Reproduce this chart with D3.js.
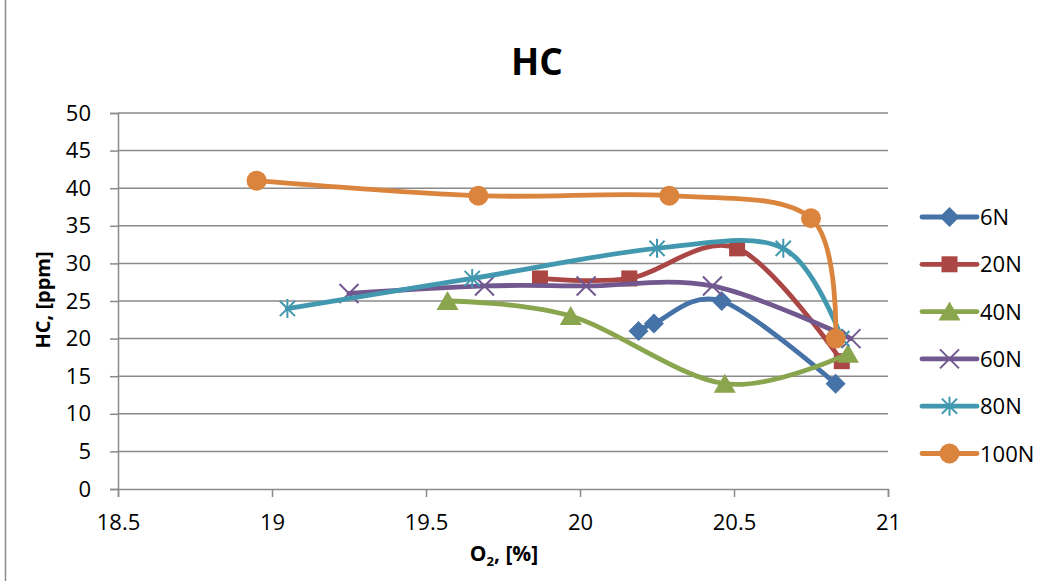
<!DOCTYPE html>
<html>
<head>
<meta charset="utf-8">
<script src="https://cdn.jsdelivr.net/npm/d3@7"></script>
<style>
  body { margin: 0; background: #fff; }
  text { font-family: "Open Sans", "Liberation Sans", sans-serif; fill: #000; }
</style>
</head>
<body>
<div id="chart"></div>
<script>
// values
var seriesNames = ["6N", "20N", "40N", "60N", "80N", "100N"];
var o2_6N   = [20.19, 20.24, 20.46, 20.83];
var hc_6N   = [21, 22, 25, 14];
var o2_20N  = [19.87, 20.16, 20.51, 20.85];
var hc_20N  = [28, 28, 32, 17];
var o2_40N  = [19.57, 19.97, 20.47, 20.87];
var hc_40N  = [25, 23, 14, 18];
var o2_60N  = [19.25, 19.69, 20.02, 20.43, 20.88];
var hc_60N  = [26, 27, 27, 27, 20];
var o2_80N  = [19.05, 19.65, 20.25, 20.66, 20.85];
var hc_80N  = [24, 28, 32, 32, 20];
var o2_100N = [18.95, 19.67, 20.29, 20.75, 20.83];
var hc_100N = [41, 39, 39, 36, 20];
var xTicks = [18.5, 19, 19.5, 20, 20.5, 21];
var yTicks = [0, 5, 10, 15, 20, 25, 30, 35, 40, 45, 50];

var colors = ["#4572a7", "#aa4643", "#89a54e", "#71588f", "#4198af", "#db843d"];
var markers = ["diamond", "square", "triangle", "x", "star", "circle"];

function zip(xs, ys) {
    return xs.map(function(x, i) { return { x: x, y: ys[i] }; });
}
var series = [
    zip(o2_6N, hc_6N), zip(o2_20N, hc_20N), zip(o2_40N, hc_40N),
    zip(o2_60N, hc_60N), zip(o2_80N, hc_80N), zip(o2_100N, hc_100N)
];

var width = 1060, height = 581;
var margin = { left: 118, top: 113, right: 172, bottom: 92 };
var plotW = width - margin.left - margin.right;
var plotH = height - margin.top - margin.bottom;

var svg = d3.select("#chart").append("svg")
    .attr("width", width)
    .attr("height", height);

// outer chart border (only the left edge shows)
svg.append("line")
    .attr("x1", 5.5).attr("x2", 5.5)
    .attr("y1", 0).attr("y2", height)
    .attr("stroke", "#8c8c8c").attr("stroke-width", 1.5);

var x = d3.scaleLinear().domain([18.5, 21]).range([0, plotW]);
var y = d3.scaleLinear().domain([0, 50]).range([plotH, 0]);

var g = svg.append("g")
    .attr("transform", "translate(" + margin.left + "," + margin.top + ")");

// gridlines
g.selectAll(".grid")
    .data(yTicks.slice(1))
    .enter().append("line")
    .attr("class", "grid")
    .attr("x1", 0).attr("x2", plotW)
    .attr("y1", function(d) { return y(d); })
    .attr("y2", function(d) { return y(d); })
    .attr("stroke", "#8a8a8a").attr("stroke-width", 1.5);

var xAxis = g.append("g")
    .attr("transform", "translate(0," + plotH + ")")
    .call(d3.axisBottom(x).tickValues(xTicks).tickSize(8).tickPadding(17)
        .tickFormat(function(d) { return String(d); }));
var yAxis = g.append("g")
    .call(d3.axisLeft(y).tickValues(yTicks).tickSize(8).tickPadding(19));

[xAxis, yAxis].forEach(function(ax) {
    ax.select(".domain").attr("stroke", "#8a8a8a").attr("stroke-width", 1.5);
    ax.selectAll(".tick line").attr("stroke", "#8a8a8a").attr("stroke-width", 1.5);
    ax.selectAll(".tick text")
        .style("font-family", "'Open Sans', 'Liberation Sans', sans-serif")
        .style("font-size", "22px").attr("fill", "#000");
});

// title and axis titles
svg.append("text")
    .attr("x", 537).attr("y", 75)
    .attr("text-anchor", "middle")
    .style("font-size", "37px").style("font-weight", "bold")
    .text("HC");

var xTitle = svg.append("text")
    .attr("x", 504).attr("y", 561)
    .attr("text-anchor", "middle")
    .style("font-size", "21px").style("font-weight", "bold");
xTitle.append("tspan").text("O");
xTitle.append("tspan").attr("dy", 5).style("font-size", "13px").text("2");
xTitle.append("tspan").attr("dy", -5).text(", [%]");

svg.append("text")
    .attr("transform", "translate(50,300) rotate(-90)")
    .attr("text-anchor", "middle")
    .style("font-size", "20px").style("font-weight", "bold")
    .text("HC, [ppm]");

function markerPath(type, r) {
    if (type === "diamond") return "M0," + (-r) + "L" + r + ",0L0," + r + "L" + (-r) + ",0Z";
    if (type === "square") return "M" + (-r) + "," + (-r) + "H" + r + "V" + r + "H" + (-r) + "Z";
    if (type === "triangle") return "M0," + (-r) + "L" + (r * 1.1) + "," + (r * 0.9) + "L" + (-r * 1.1) + "," + (r * 0.9) + "Z";
    if (type === "circle") return d3.arc()({ innerRadius: 0, outerRadius: r, startAngle: 0, endAngle: 2 * Math.PI });
    if (type === "x") return "M" + (-r) + "," + (-r) + "L" + r + "," + r + "M" + (-r) + "," + r + "L" + r + "," + (-r);
    // star: x plus vertical stroke
    var a = r * 0.8;
    return "M" + (-a) + "," + (-a) + "L" + a + "," + a + "M" + (-a) + "," + a + "L" + a + "," + (-a) + "M0," + (-r) + "L0," + r;
}
var markerSize = [10, 8, 10, 9.5, 9.5, 10];

function drawMarker(sel, i) {
    var stroked = markers[i] === "x" || markers[i] === "star";
    sel.attr("d", markerPath(markers[i], markerSize[i]))
        .attr("fill", stroked ? "none" : colors[i])
        .attr("stroke", stroked ? colors[i] : "none")
        .attr("stroke-width", stroked ? 2 : 0);
}

var line = d3.line()
    .x(function(d) { return x(d.x); })
    .y(function(d) { return y(d.y); })
    .curve(d3.curveCardinal.tension(0));

series.forEach(function(data, i) {
    g.append("path")
        .datum(data)
        .attr("fill", "none")
        .attr("stroke", colors[i])
        .attr("stroke-width", 4.8)
        .attr("stroke-linecap", "round")
        .attr("stroke-linejoin", "round")
        .attr("d", line);

    g.selectAll(".m" + i)
        .data(data)
        .enter().append("path")
        .attr("class", "m" + i)
        .attr("transform", function(d) { return "translate(" + x(d.x) + "," + y(d.y) + ")"; })
        .call(drawMarker, i);
});

// legend
var legend = svg.append("g").attr("transform", "translate(922,217)");
var item = legend.selectAll(".item")
    .data(seriesNames)
    .enter().append("g")
    .attr("class", "item")
    .attr("transform", function(d, i) { return "translate(0," + (i * 47.3) + ")"; });

item.append("line")
    .attr("x1", 0).attr("x2", 55)
    .attr("stroke", function(d, i) { return colors[i]; })
    .attr("stroke-width", 4.8)
    .attr("stroke-linecap", "round");
item.append("path")
    .attr("transform", "translate(27.5,0)")
    .each(function(d, i) { d3.select(this).call(drawMarker, i); });
item.append("text")
    .attr("x", 58).attr("y", 8)
    .style("font-size", "22px")
    .text(function(d) { return d; });
</script>
</body>
</html>
